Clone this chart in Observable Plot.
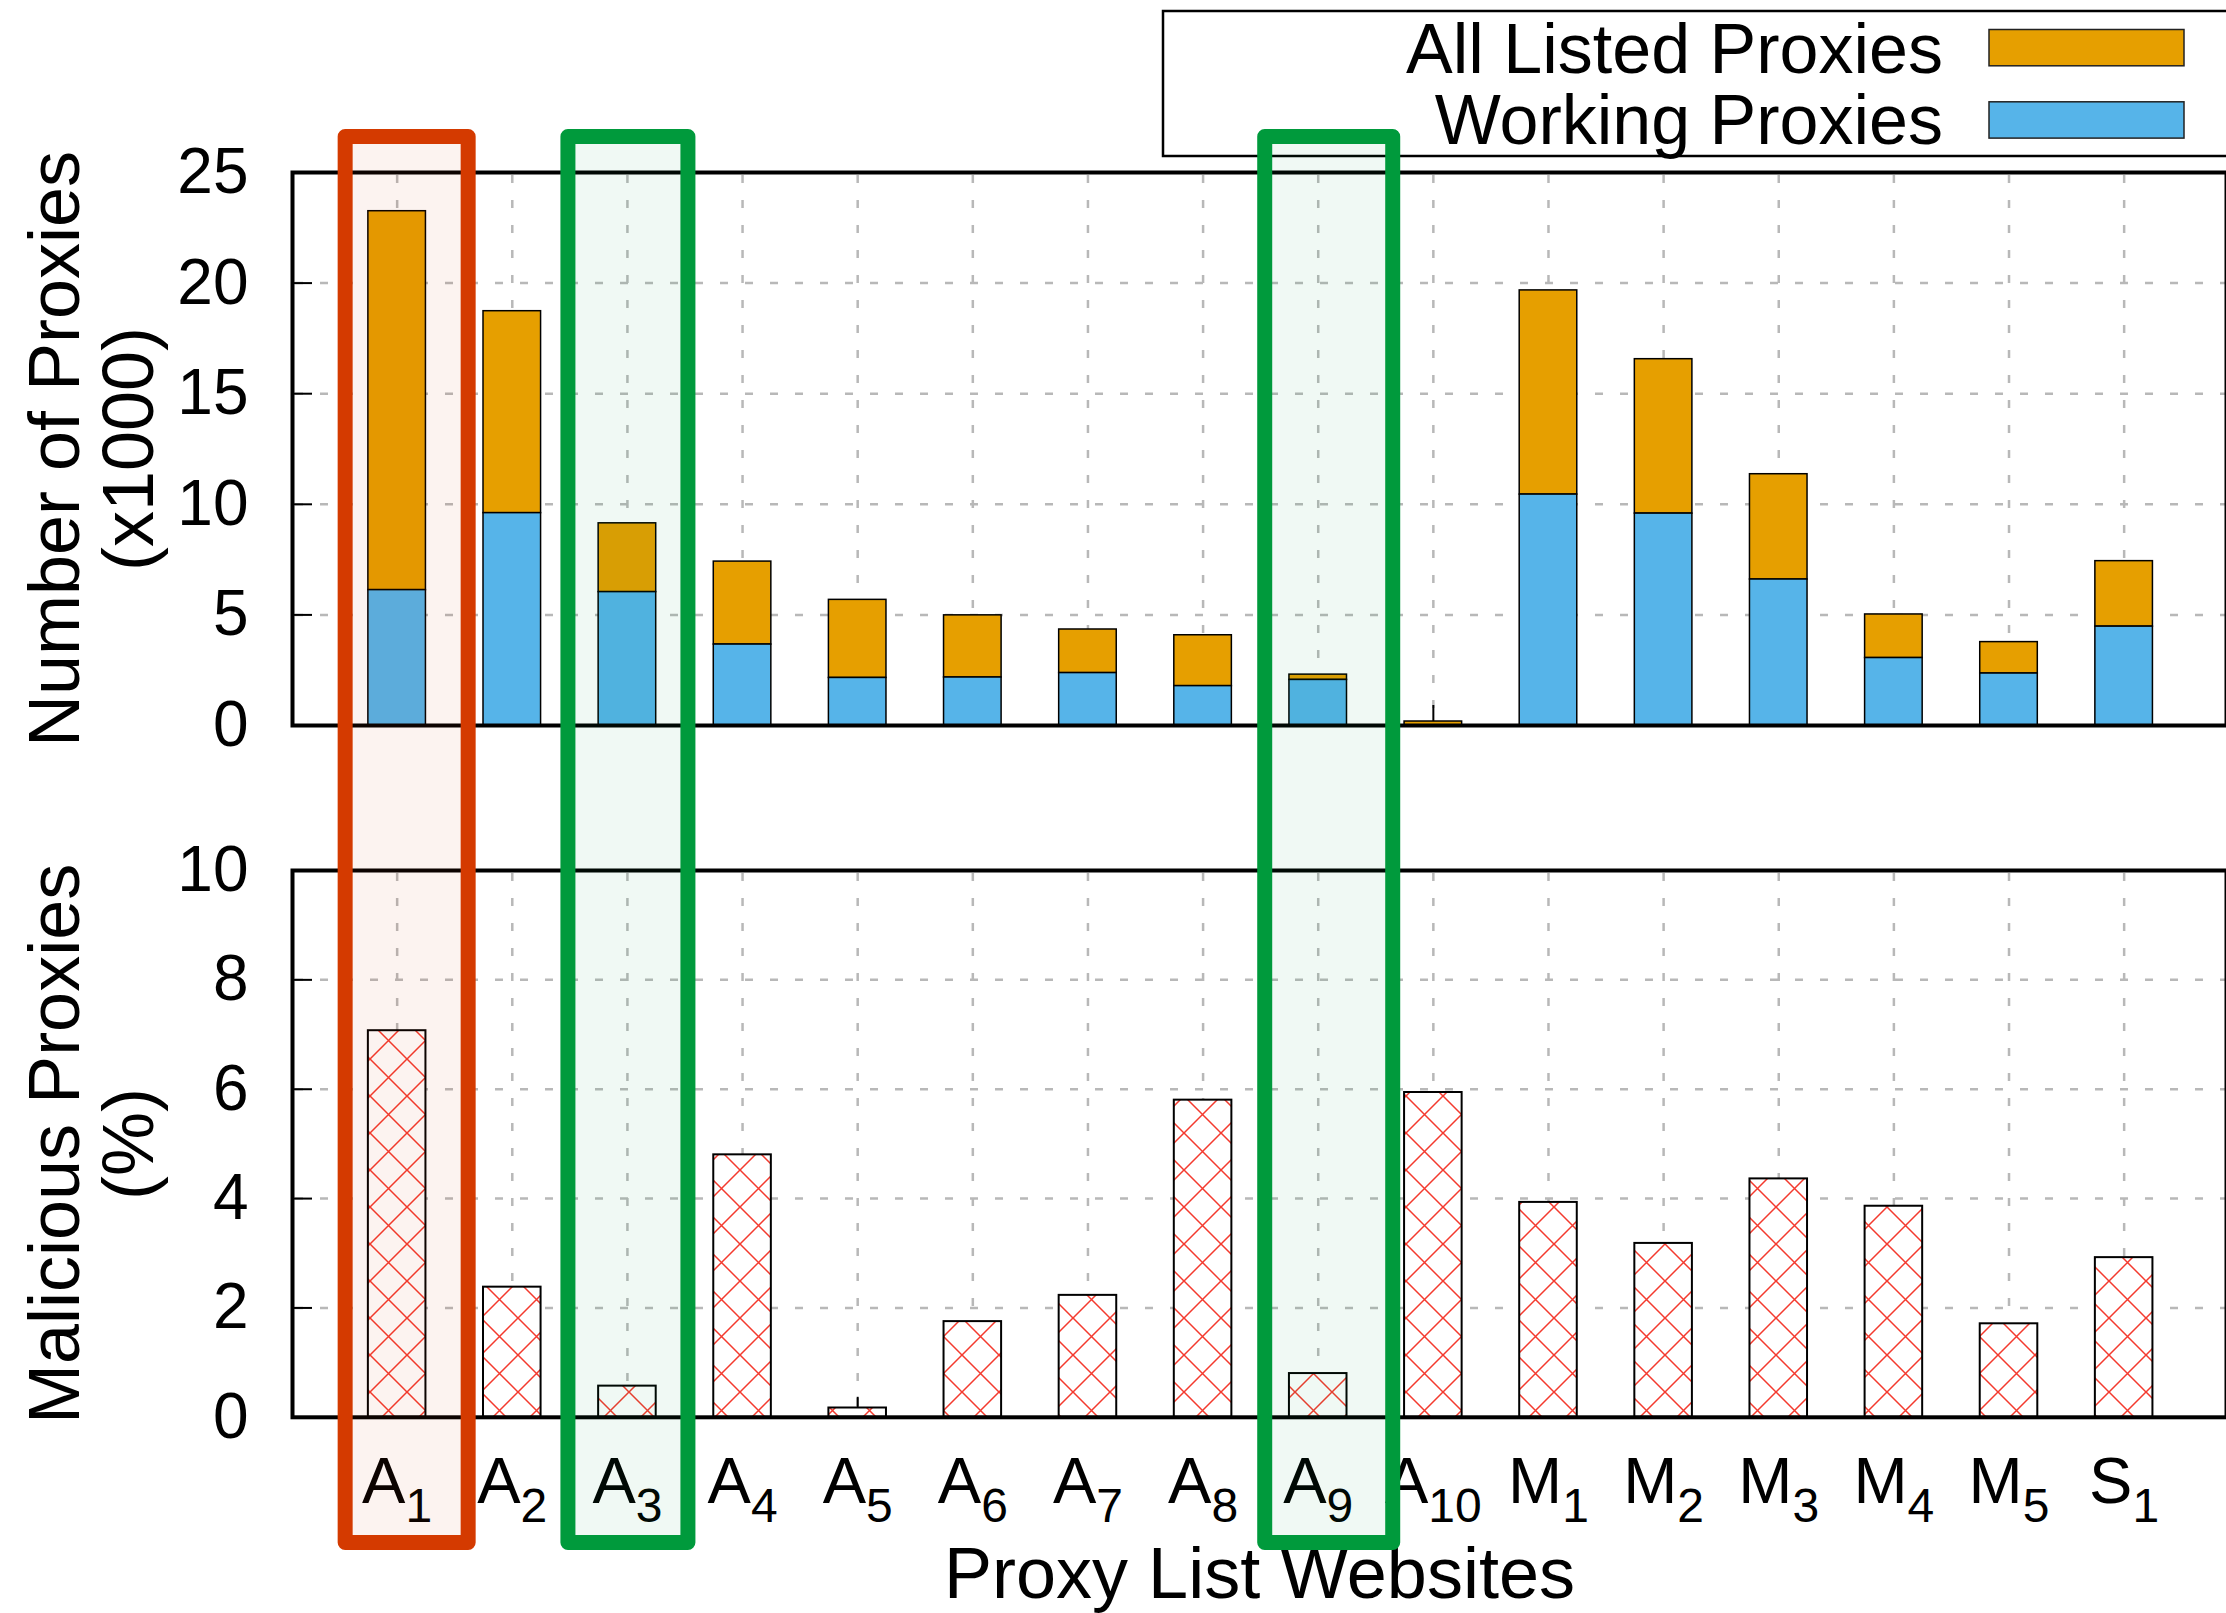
<!DOCTYPE html>
<html>
<head>
<meta charset="utf-8">
<script src="https://cdn.jsdelivr.net/npm/d3@7"></script>
<script src="https://cdn.jsdelivr.net/npm/@observablehq/plot@0.6"></script>
<style>
  html, body { margin: 0; padding: 0; background: #fff; }
  #fig { position: relative; width: 2226px; height: 1613px; overflow: hidden;
         font-family: "Liberation Sans", Arial, Helvetica, sans-serif; background: #fff; }
  #fig > svg { position: absolute; left: 0; }
</style>
</head>
<body>
<div id="fig"></div>
<script>
// ---------------- data ----------------
const sites = ["A1","A2","A3","A4","A5","A6","A7","A8","A9","A10","M1","M2","M3","M4","M5","S1"];
const allListed = [23.25, 18.73, 9.14, 7.41, 5.68, 4.98, 4.34, 4.08, 2.30, 0.18, 19.67, 16.56, 11.36, 5.02, 3.77, 7.43];
const working   = [ 6.12,  9.60, 6.03, 3.66, 2.15, 2.17, 2.37, 1.78, 2.06, 0.00, 10.44,  9.58,  6.60, 3.05, 2.35, 4.47];
const malicious = [ 7.07,  2.38, 0.57, 4.80, 0.17, 1.75, 2.23, 5.80, 0.80, 5.94,  3.93,  3.18,  4.36, 3.86, 1.71, 2.92];
const topTicks = [0, 5, 10, 15, 20, 25];
const bottomTicks = [0, 2, 4, 6, 8, 10];
const topTitle = "Number of Proxies\n(x1000)";
const bottomTitle = "Malicious Proxies\n(%)";
const xTitle = "Proxy List Websites";
const legendItems = [
  {label: "All Listed Proxies", color: "#E69F00"},
  {label: "Working Proxies", color: "#56B4E9"}
];
const highlights = [
  {site: "A1", color: "#D43A00"},
  {site: "A3", color: "#009A3C"},
  {site: "A9", color: "#009A3C"}
];

// ---------------- layout ----------------
const W = 2226;
const FONT = '"Liberation Sans", Arial, Helvetica, sans-serif';
const mL = 292, mR = 0;
const xDomain = [-0.909, 15.889];
const barHalf = 0.25;
const topH = 800, topMT = 172, topMB = 75;
const botY = 800, botH = 813, botMT = 70, botMB = 196.2;
const gridStyle = {stroke: "#b8b8b8", strokeOpacity: 1, strokeWidth: 2.5, strokeDasharray: "8,17", strokeDashoffset: -3};
const intFmt = d => String(d);

const rows = sites.map((s, i) => ({site: s, i, all: allListed[i], work: working[i], mal: malicious[i]}));
const idx = d3.range(sites.length);

function common(h, mt, mb) {
  return {
    width: W, height: h, marginLeft: mL, marginRight: mR, marginTop: mt, marginBottom: mb,
    style: {fontFamily: FONT, background: "transparent", overflow: "visible", color: "black"},
    x: {type: "linear", domain: xDomain, axis: null}
  };
}

// ---------------- top panel ----------------
const topPlotH = topH - topMT - topMB;
const plotW = W - mL - mR;
const topChart = Plot.plot({
  ...common(topH, topMT, topMB),
  y: {domain: [0, 25], axis: null},
  marks: [
    Plot.ruleY(topTicks.filter(t => t > 0 && t < 25), {y: d => d, ...gridStyle}),
    Plot.ruleX(idx, {x: d => d, ...gridStyle}),
    Plot.tickX(idx, {x: d => d, insetTop: topPlotH - 20, stroke: "black", strokeWidth: 2}),
    Plot.tickY(topTicks, {y: d => d, insetRight: plotW - 20, stroke: "black", strokeWidth: 2}),
    Plot.rect(rows, {x1: d => d.i - barHalf, x2: d => d.i + barHalf, y1: "work", y2: "all",
      fill: legendItems[0].color, stroke: "black", strokeWidth: 1.5}),
    Plot.rect(rows.filter(d => d.work > 0), {x1: d => d.i - barHalf, x2: d => d.i + barHalf, y1: 0, y2: "work",
      fill: legendItems[1].color, stroke: "black", strokeWidth: 1.5}),
    Plot.axisY(topTicks, {tickSize: 0, tickPadding: 44, fontSize: 64, label: null, tickFormat: intFmt}),
    Plot.text([topTitle], {frameAnchor: "left", rotate: -90, dx: -200.5, fontSize: 72, lineHeight: 1.04, textAnchor: "middle"}),
    Plot.frame({stroke: "black", strokeWidth: 4})
  ]
});
topChart.style.top = "0px";

// ---------------- bottom panel ----------------
const botPlotH = botH - botMT - botMB;
const bottomChart = Plot.plot({
  ...common(botH, botMT, botMB),
  y: {domain: [0, 10], axis: null},
  marks: [
    Plot.ruleY(bottomTicks.filter(t => t > 0 && t < 10), {y: d => d, ...gridStyle}),
    Plot.ruleX(idx, {x: d => d, ...gridStyle}),
    Plot.tickX(idx, {x: d => d, insetTop: botPlotH - 20, stroke: "black", strokeWidth: 2}),
    Plot.tickY(bottomTicks, {y: d => d, insetRight: plotW - 20, stroke: "black", strokeWidth: 2}),
    Plot.rect(rows, {x1: d => d.i - barHalf, x2: d => d.i + barHalf, y1: 0, y2: "mal",
      fill: "url(#hatch)", stroke: "black", strokeWidth: 2}),
    Plot.axisY(bottomTicks, {tickSize: 0, tickPadding: 44, fontSize: 64, label: null, tickFormat: intFmt}),
    Plot.axisX(idx, {tickFormat: i => sites[i], tickSize: 0, tickPadding: 40, fontSize: 65, label: null}),
    Plot.text([bottomTitle], {frameAnchor: "left", rotate: -90, dx: -200.5, fontSize: 72, lineHeight: 1.04, textAnchor: "middle"}),
    Plot.text([xTitle], {frameAnchor: "bottom", dy: 180.5, lineAnchor: "bottom", fontSize: 72}),
    Plot.frame({stroke: "black", strokeWidth: 4})
  ]
});
bottomChart.style.top = botY + "px";

const NS = "http://www.w3.org/2000/svg";
// hatch pattern
const defs = document.createElementNS(NS, "defs");
defs.innerHTML = `<pattern id="hatch" patternUnits="userSpaceOnUse" width="37" height="37">
  <rect width="37" height="37" fill="white"/>
  <path d="M-4,-4L41,41M41,-4L-4,41" stroke="#f43a2e" stroke-width="1.5" fill="none"/>
</pattern>`;
bottomChart.insertBefore(defs, bottomChart.firstChild);

// subscripts on x tick labels
bottomChart.querySelectorAll('g[aria-label="x-axis tick label"] text').forEach(el => {
  const m = el.textContent.match(/^([A-Za-z]+)(\d+)$/);
  if (!m) return;
  el.textContent = m[1];
  const ts = document.createElementNS(NS, "tspan");
  ts.setAttribute("font-size", "48");
  ts.setAttribute("dy", "19");
  ts.textContent = m[2];
  el.appendChild(ts);
});

const fig = document.getElementById("fig");
fig.appendChild(topChart);
fig.appendChild(bottomChart);

// ---------------- overlay: legend + highlight boxes ----------------
const xs = topChart.scale("x");
const ov = document.createElementNS(NS, "svg");
ov.setAttribute("width", W);
ov.setAttribute("height", 1613);
ov.style.top = "0px";
ov.style.fontFamily = FONT;
const ovs = d3.select(ov);

// legend
const lg = ovs.append("g");
lg.append("rect").attr("x", 1163).attr("y", 11).attr("width", 1070).attr("height", 145)
  .attr("fill", "white").attr("stroke", "black").attr("stroke-width", 2.5);
legendItems.forEach((it, k) => {
  const base = 72.5 + k * 71.5;
  lg.append("text").attr("x", 1943).attr("y", base).attr("text-anchor", "end")
    .attr("font-size", 70).attr("fill", "black").text(it.label);
  lg.append("rect").attr("x", 1989).attr("y", 29.5 + k * 72.3).attr("width", 195).attr("height", 36.3)
    .attr("fill", it.color).attr("stroke", "#222").attr("stroke-width", 1.5);
});

// highlight boxes
const boxLayout = {A1: {dx: 10, w: 123}, A3: {dx: 1, w: 120}, A9: {dx: 11, w: 128}};
highlights.forEach(h => {
  const i = sites.indexOf(h.site);
  const L = boxLayout[h.site];
  const cx = xs.apply(i) + L.dx;
  ovs.append("rect").attr("x", cx - L.w / 2).attr("y", 136.5).attr("width", L.w).attr("height", 1406)
    .attr("fill", h.color).attr("fill-opacity", 0.06)
    .attr("stroke", h.color).attr("stroke-width", 15).attr("stroke-linejoin", "round");
});
fig.appendChild(ov);
</script>
</body>
</html>
